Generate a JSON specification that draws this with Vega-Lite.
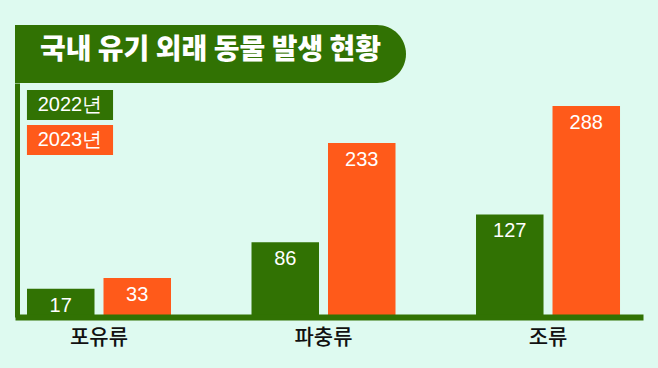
{
  "$schema": "https://vega.github.io/schema/vega-lite/v6.json",
  "background": "#defaf0",
  "padding": {"left": 15, "top": 25, "right": 15, "bottom": 22},
  "spacing": 0,
  "bounds": "flush",
  "config": {"view": {"stroke": null}, "font": "Noto Sans CJK KR"},
  "vconcat": [
    {
      "width": 391,
      "height": 58,
      "data": {"values": [{"title": "국내 유기 외래 동물 발생 현황"}]},
      "layer": [
        {
          "mark": {"type": "rect", "color": "#317203", "cornerRadiusTopRight": 29, "cornerRadiusBottomRight": 29},
          "encoding": {}
        },
        {
          "mark": {"type": "text", "color": "white", "font": "Noto Sans CJK KR", "fontWeight": 900, "fontSize": 28, "dy": -3},
          "encoding": {"text": {"field": "title"}}
        }
      ]
    },
    {
      "width": 628,
      "height": 234,
      "data": {
        "values": [
          {"category": "포유류", "year": "2022년", "count": 17},
          {"category": "포유류", "year": "2023년", "count": 33},
          {"category": "파충류", "year": "2022년", "count": 86},
          {"category": "파충류", "year": "2023년", "count": 233},
          {"category": "조류", "year": "2022년", "count": 127},
          {"category": "조류", "year": "2023년", "count": 288}
        ]
      },
      "encoding": {
        "x": {
          "field": "category",
          "type": "nominal",
          "sort": ["포유류", "파충류", "조류"],
          "scale": {"paddingInner": 0.3586, "paddingOuter": 0.0779, "align": 0.343},
          "axis": {
            "title": null,
            "ticks": false,
            "grid": false,
            "labelAngle": 0,
            "labelFont": "Noto Sans CJK KR",
            "labelFontSize": 21,
            "labelFontWeight": 500,
            "labelColor": "#111111",
            "labelPadding": 9,
            "domainColor": "#317203",
            "domainWidth": 6,
            "zindex": 1
          }
        },
        "xOffset": {
          "field": "year",
          "type": "nominal",
          "sort": ["2022년", "2023년"],
          "scale": {"paddingInner": 0.1176, "paddingOuter": 0}
        }
      },
      "layer": [
        {
          "mark": {"type": "bar"},
          "encoding": {
            "y": {
              "field": "count",
              "type": "quantitative",
              "scale": {"domain": [-25, 322], "zero": false, "nice": false},
              "axis": {
                "title": null,
                "labels": false,
                "ticks": false,
                "grid": false,
                "domainColor": "#317203",
                "domainWidth": 5,
                "offset": -2,
                "minExtent": 0,
                "zindex": 1
              }
            },
            "y2": {"datum": -25},
            "color": {
              "field": "year",
              "type": "nominal",
              "scale": {"domain": ["2022년", "2023년"], "range": ["#317203", "#ff5a1a"]},
              "legend": {
                "orient": "none",
                "legendX": 40,
                "legendY": 65,
                "title": null,
                "symbolType": "M-2.87,-1H2.87V1H-2.87Z",
                "symbolSize": 900,
                "symbolStrokeWidth": 0,
                "symbolOpacity": 1,
                "labelAlign": "center",
                "labelOffset": -15,
                "labelColor": "white",
                "labelFont": "Liberation Sans",
                "labelFontSize": 20,
                "rowPadding": 5,
                "padding": 0
              }
            }
          }
        },
        {
          "mark": {"type": "text", "baseline": "top", "dy": 7, "color": "white", "font": "Liberation Sans", "fontSize": 20},
          "encoding": {
            "y": {"field": "count", "type": "quantitative"},
            "text": {"field": "count", "type": "quantitative"}
          }
        }
      ]
    }
  ]
}
